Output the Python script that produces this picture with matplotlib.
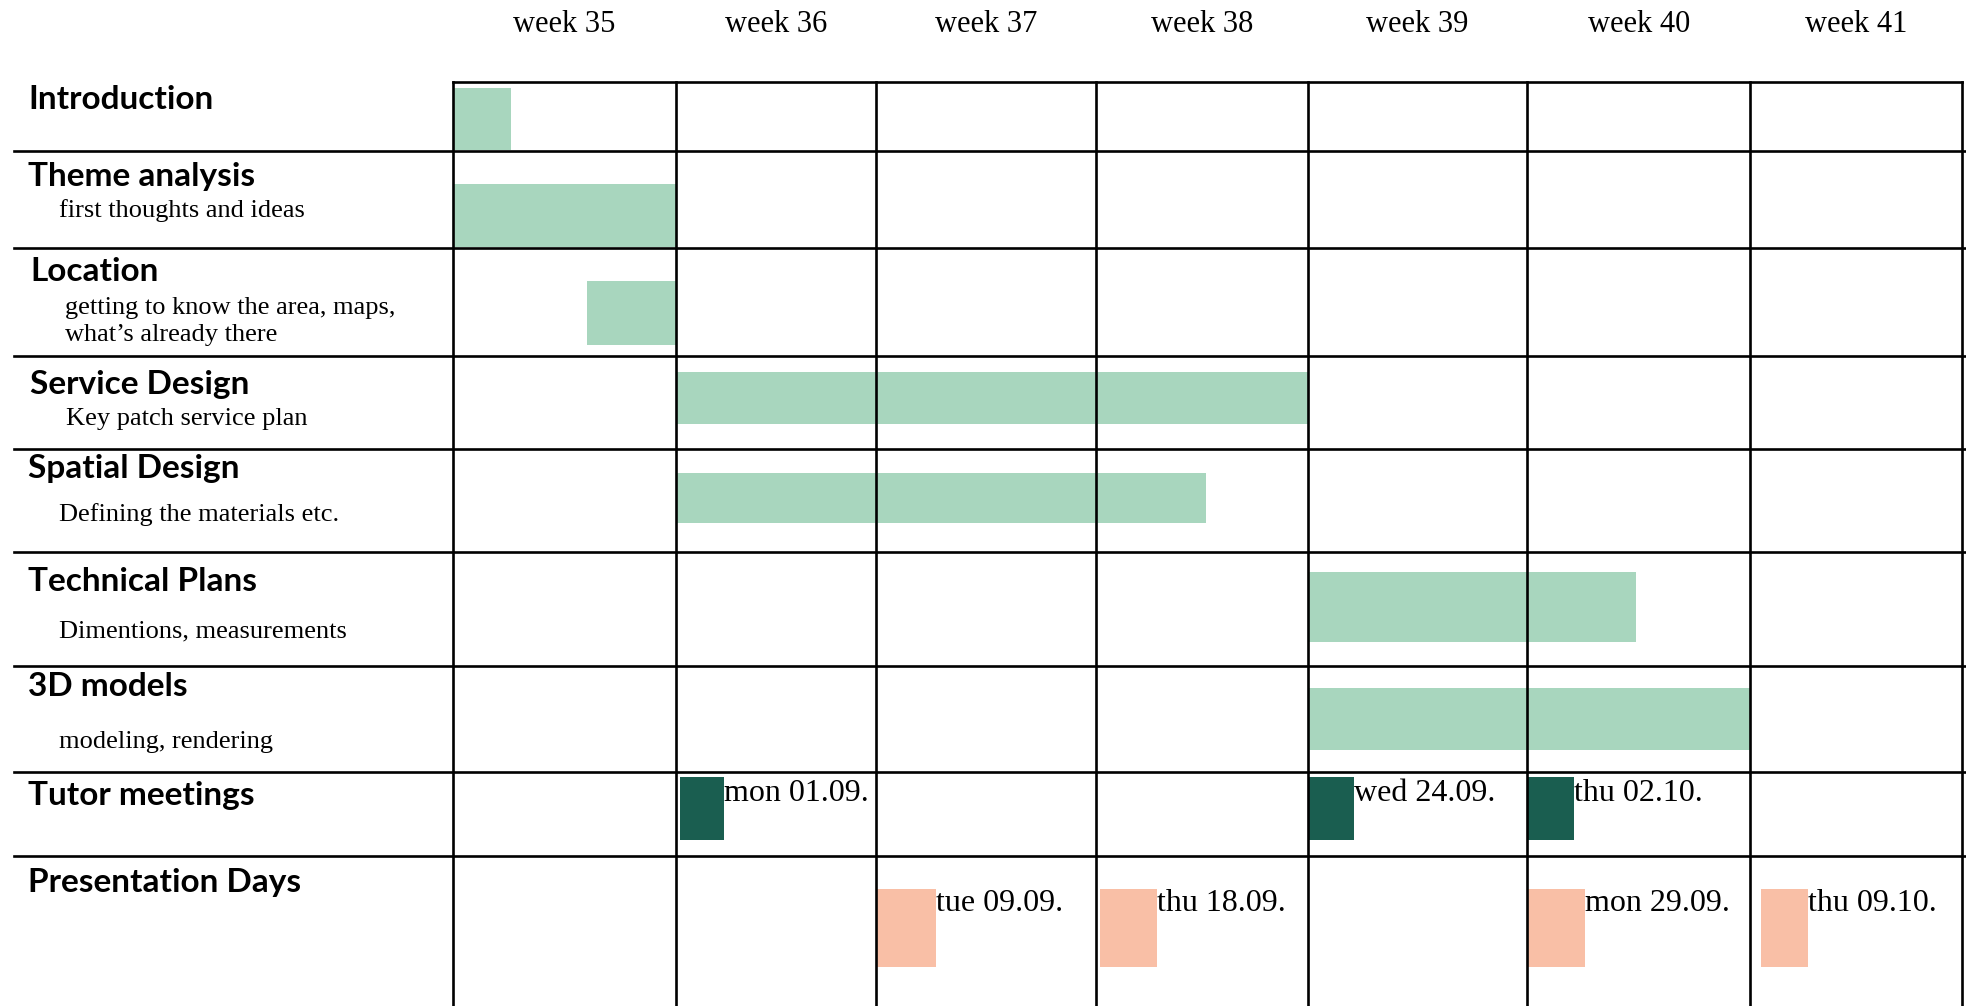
import matplotlib
matplotlib.use("Agg")
import matplotlib.pyplot as plt
import matplotlib.transforms as mtransforms
from matplotlib.lines import Line2D
import numpy as np

# ---------------- data ----------------
weeks = ["week 35", "week 36", "week 37", "week 38", "week 39", "week 40", "week 41"]
tasks = ["Introduction", "Theme analysis", "Location", "Service Design", "Spatial Design",
         "Technical Plans", "3D models", "Tutor meetings", "Presentation Days"]
subtitles = ["", "first thoughts and ideas", "getting to know the area, maps,\nwhat\u2019s already there",
             "Key patch service plan", "Defining the materials etc.", "Dimentions, measurements",
             "modeling, rendering", "", ""]
# task bars, in weeks from start of week 35
task_start = [0.0, 0.0, 0.6, 1.0, 1.0, 4.0, 4.0]
task_end = [0.26, 1.0, 1.0, 4.0, 3.52, 5.49, 6.0]

tutor_start = [1.02, 4.0, 5.0]
tutor_len = [0.22, 0.21, 0.21]
tutor_labels = ["mon 01.09.", "wed 24.09.", "thu 02.10."]

pres_start = [2.0, 3.02, 5.0, 6.05]
pres_len = [0.27, 0.27, 0.26, 0.22]
pres_labels = ["tue 09.09.", "thu 18.09.", "mon 29.09.", "thu 09.10."]

# ---------------- layout (pixels) ----------------
W, H = 1966, 1006
col_edges_px = [452.6, 675.8, 876.4, 1095.8, 1307.7, 1527.1, 1750.3, 1962.2]
row_heights = [70, 97, 108, 93, 103, 114, 107, 84, 150]
row_edges = np.concatenate([[0], np.cumsum(row_heights)])
grid_top_px = 81.5
bar_inset = [(6.5, 68.5), (32.5, 95.5), (32.5, 96.5), (15.5, 68.5), (24.5, 74.5),
             (20.5, 90.5), (22.5, 84.5)]
tutor_inset = (4.5, 67.5)
pres_inset = (32.5, 110.5)
tutor_text_off = 21.5
pres_text_off = 47.5
head_off = [18.5, 25.5, 23.5, 28.5, 19.5, 29.5, 20.5, 23.5, 26.5]
head_x = [28, 28, 30, 30, 28, 28, 28, 28, 28]
sub_off = [0, 59.5, 73.5, 63.5, 65.5, 79.5, 76.5, 0, 0]
sub_x = [0, 59, 65, 66, 59, 59, 59, 0, 0]

light_green = "#A8D6BE"
dark_green = "#1A5E50"
salmon = "#F9BFA6"

serif = ["Liberation Serif", "DejaVu Serif"]
sans = ["Lato", "DejaVu Sans"]

fig = plt.figure(figsize=(W / 100, H / 100), dpi=100)
x0, x1 = col_edges_px[0], col_edges_px[-1]
ax = fig.add_axes([x0 / W, 0, (x1 - x0) / W, 1 - grid_top_px / H])
week_idx = np.arange(len(weeks) + 1, dtype=float)
edges = np.array(col_edges_px)
ax.set_xscale("function", functions=(lambda x: np.interp(x, week_idx, edges),
                                      lambda p: np.interp(p, edges, week_idx)))
ax.set_xlim(0, len(weeks))
ax.set_ylim(row_edges[-1], 0)
ax.axis("off")

# task bars
for i, (s, e) in enumerate(zip(task_start, task_end)):
    t, b = bar_inset[i]
    ax.barh(row_edges[i] + (t + b) / 2, e - s, left=s, height=b - t,
            color=light_green, zorder=1)

# tutor meetings
ri = 7
for s, l, lab in zip(tutor_start, tutor_len, tutor_labels):
    t, b = tutor_inset
    ax.barh(row_edges[ri] + (t + b) / 2, l, left=s, height=b - t, color=dark_green, zorder=1)
    ax.text(s + l, row_edges[ri] + tutor_text_off, lab, ha="left", va="center",
            fontsize=23, family=serif, zorder=3)

# presentation days
ri = 8
for s, l, lab in zip(pres_start, pres_len, pres_labels):
    t, b = pres_inset
    ax.barh(row_edges[ri] + (t + b) / 2, l, left=s, height=b - t, color=salmon, zorder=1)
    ax.text(s + l, row_edges[ri] + pres_text_off, lab, ha="left", va="center",
            fontsize=23, family=serif, zorder=3)

# grid lines
lw = 1.9
for k in range(len(weeks) + 1):
    ax.plot([k, k], [0, row_edges[-1]], color="black", lw=lw, zorder=2,
            clip_on=False, solid_capstyle="projecting")
blend = mtransforms.blended_transform_factory(fig.transFigure, ax.transData)
ax.plot([0, len(weeks)], [0, 0], color="black", lw=lw, zorder=2, clip_on=False)
for y in row_edges[1:-1]:
    fig.add_artist(Line2D([14 / W, 1.0], [y, y], transform=blend, color="black", lw=lw))

# week labels
top_blend = mtransforms.blended_transform_factory(ax.transData, fig.transFigure)
for k, w in enumerate(weeks):
    ax.text(k + 0.5, 1 - 25 / H, w, transform=top_blend, ha="center", va="center",
            fontsize=22, family=serif)

# row headings and subtitles
for i, name in enumerate(tasks):
    fig.text(head_x[i] / W, row_edges[i] + head_off[i], name, transform=blend,
             ha="left", va="center", fontsize=24, fontweight="bold", family=sans)
    if subtitles[i]:
        fig.text(sub_x[i] / W, row_edges[i] + sub_off[i], subtitles[i], transform=blend,
                 ha="left", va="center", fontsize=19, family=serif, linespacing=1.3)

fig.savefig("out.png", dpi=100, facecolor="white")
